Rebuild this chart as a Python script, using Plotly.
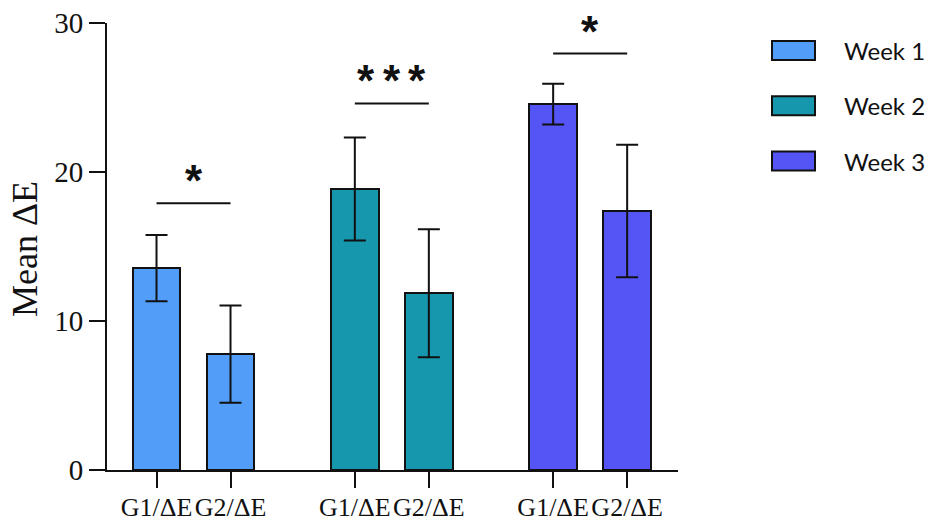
import plotly.graph_objects as go

# ---------------- data ----------------
weeks = ["Week 1", "Week 2", "Week 3"]
groups = ["G1/ΔE", "G2/ΔE"]
week1_mean = [13.55, 7.78]
week1_err = [2.23, 3.26]
week2_mean = [18.86, 11.86]
week2_err = [3.46, 4.30]
week3_mean = [24.56, 17.38]
week3_err = [1.37, 4.45]
sig_labels = ["*", "***", "*"]
sig_heights = [17.9, 24.6, 27.95]
y_ticks = [0, 10, 20, 30]

means = [week1_mean, week2_mean, week3_mean]
errs = [week1_err, week2_err, week3_err]
colors = ["#519DF8", "#1797AD", "#5555F6"]

# ---------------- layout geometry ----------------
W, H = 930, 521
L, R, T, B = 107, 930 - 678, 23, 521 - 470
plot_w = W - L - R
plot_h = H - T - B
GROUP_STEP = 2.68
BAR_W = 0.64
X_RANGE = [-0.669, 7.047]
STAR_PITCH = 25.6

def px_to_paper_x(px):
    return (px - L) / plot_w

def px_to_paper_y(py):
    return (H - B - py) / plot_h

SERIF = "Liberation Serif, Times New Roman, serif"
SANS = "Lato, Liberation Sans, Arial, sans-serif"

fig = go.Figure()
tickvals, ticktext = [], []
for i, wk in enumerate(weeks):
    xs = [i * GROUP_STEP + j for j in range(len(groups))]
    tickvals += xs
    ticktext += groups
    fig.add_trace(go.Bar(
        x=xs, y=means[i], width=BAR_W, name=wk,
        marker=dict(color=colors[i], line=dict(color="#111111", width=2)),
        error_y=dict(type="data", array=errs[i], visible=True,
                     color="#111111", thickness=2, width=11),
        showlegend=False,
    ))
    # significance bracket
    fig.add_shape(type="line", xref="x", yref="y",
                  x0=xs[0], x1=xs[1], y0=sig_heights[i], y1=sig_heights[i],
                  line=dict(color="#111111", width=2))
    n = len(sig_labels[i])
    for k in range(n):
        fig.add_annotation(x=(xs[0] + xs[1]) / 2, y=sig_heights[i], xref="x", yref="y",
                           text="<b>*</b>", showarrow=False, yanchor="bottom", yshift=-4,
                           xshift=(k - (n - 1) / 2) * STAR_PITCH,
                           font=dict(family="Liberation Sans, Arial, sans-serif", size=44, color="#111111"))

# extend x axis line to the left of y axis
fig.add_shape(type="line", xref="paper", yref="paper",
              x0=px_to_paper_x(90), x1=0, y0=0, y1=0,
              line=dict(color="#111111", width=2))

# manual legend
for i, wk in enumerate(weeks):
    cy = 50.5 + i * 55.3
    fig.add_shape(type="rect", xref="paper", yref="paper",
                  x0=px_to_paper_x(772), x1=px_to_paper_x(815),
                  y0=px_to_paper_y(cy + 9.5), y1=px_to_paper_y(cy - 9.5),
                  fillcolor=colors[i], line=dict(color="#111111", width=2))
    fig.add_annotation(xref="paper", yref="paper", x=px_to_paper_x(842), y=px_to_paper_y(cy),
                       text=wk, showarrow=False, xanchor="left", yanchor="middle",
                       font=dict(family=SANS, size=24, color="#111111"))

# y title
fig.add_annotation(xref="paper", yref="paper", x=px_to_paper_x(25), y=px_to_paper_y(249),
                   text="Mean ΔE", textangle=-90, showarrow=False,
                   xanchor="center", yanchor="middle",
                   font=dict(family=SERIF, size=36, color="#111111"))

fig.update_layout(
    width=W, height=H,
    margin=dict(l=L, r=R, t=T, b=B, pad=0, autoexpand=False),
    paper_bgcolor="white", plot_bgcolor="white",
    bargap=0,
    xaxis=dict(range=X_RANGE, tickvals=tickvals, ticktext=ticktext, automargin=False,
               showline=True, linecolor="#111111", linewidth=2,
               ticks="outside", ticklen=16, tickwidth=2, tickcolor="#111111",
               ticklabelstandoff=-3,
               showgrid=False, zeroline=False,
               tickfont=dict(family=SERIF, size=26, color="#111111")),
    yaxis=dict(range=[0, 30], tickvals=y_ticks, automargin=False,
               showline=True, linecolor="#111111", linewidth=2,
               ticks="outside", ticklen=16, tickwidth=2, tickcolor="#111111",
               showgrid=False, zeroline=False,
               tickfont=dict(family=SERIF, size=29, color="#111111")),
)

fig.write_html("out.html", config={"displayModeBar": False},
               post_script="document.body.style.margin='0';document.body.style.overflow='hidden';")
